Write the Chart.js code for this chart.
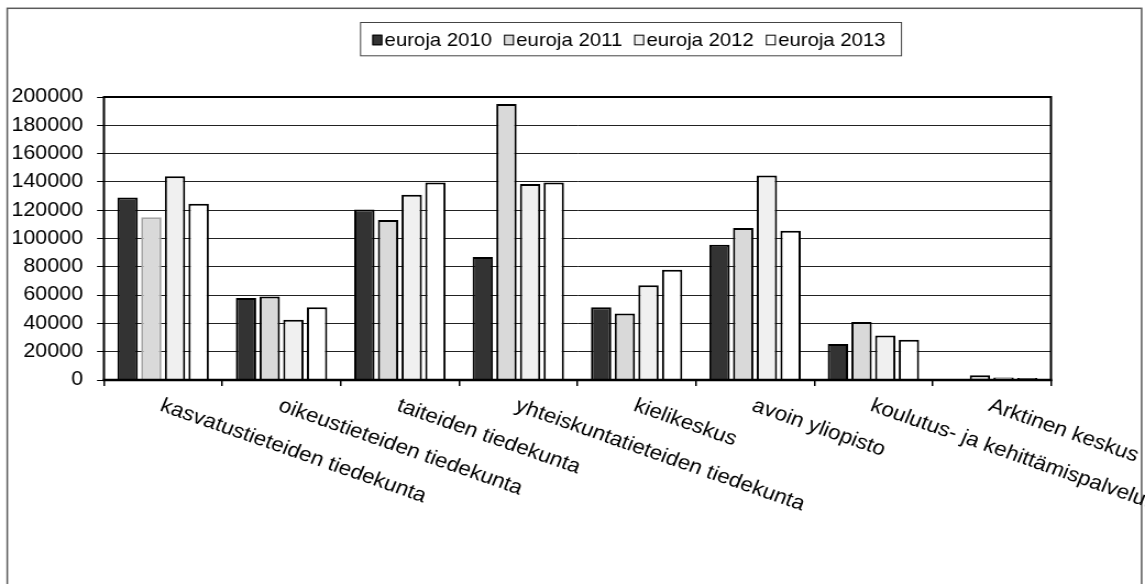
<!DOCTYPE html>
<html>
<head>
<meta charset="utf-8">
<title>Eurot yksiköittäin 2010–2013</title>
<script src="https://cdn.jsdelivr.net/npm/chart.js@4.4.1/dist/chart.umd.min.js"></script>
<style>
  html, body { margin: 0; padding: 0; background: #fff; }
  canvas { display: block; }
</style>
</head>
<body>
<!-- drawing surface is slightly narrower than the page and widened by CSS -->
<canvas id="chart" width="1041" height="584" style="width:1145px;height:584px"></canvas>
<script>
// Units (x axis)
const categories = [
  'kasvatustieteiden tiedekunta',
  'oikeustieteiden tiedekunta',
  'taiteiden tiedekunta',
  'yhteiskuntatieteiden tiedekunta',
  'kielikeskus',
  'avoin yliopisto',
  'koulutus- ja kehittämispalvelut',
  'Arktinen keskus'
];

// Series names
const seriesLabels = ['euroja 2010', 'euroja 2011', 'euroja 2012', 'euroja 2013'];

// Euros per unit and year
const euros2010 = [129000, 58000, 120500, 87000, 51500, 95500, 25500, 0];
const euros2011 = [115000, 59000, 113000, 195000, 47000, 107500, 41000, 3300];
const euros2012 = [144000, 42500, 131000, 138500, 67000, 144500, 31500, 1700];
const euros2013 = [124500, 51500, 139500, 139500, 78000, 105500, 28500, 1400];

// Value axis ticks
const yTickValues = [0, 20000, 40000, 60000, 80000, 100000, 120000, 140000, 160000, 180000, 200000];

const FONT = "'Liberation Sans', Arial, Helvetica, sans-serif";

// Outer frame and white background
const framePlugin = {
  id: 'frame',
  beforeDraw(chart) {
    const ctx = chart.ctx;
    ctx.save();
    ctx.fillStyle = '#ffffff';
    ctx.fillRect(0, 0, chart.width, chart.height);
    ctx.restore();
  },
  afterDraw(chart) {
    const ctx = chart.ctx;
    ctx.save();
    ctx.strokeStyle = '#5a5a5a';
    ctx.lineWidth = 1.5;
    ctx.strokeRect(6.6, 8.3, 1037.9 - 6.6, 640);
    ctx.restore();
  }
};

// Black border around the plot area, drawn over the bars
const plotBorderPlugin = {
  id: 'plotBorder',
  afterDatasetsDraw(chart) {
    const { ctx, chartArea: a } = chart;
    ctx.save();
    ctx.strokeStyle = '#000';
    ctx.lineWidth = 2;
    ctx.strokeRect(a.left, a.top, a.right - a.left, a.bottom - a.top);
    ctx.lineWidth = 2.6;
    ctx.beginPath();
    ctx.moveTo(a.left - 1, a.bottom);
    ctx.lineTo(a.right + 1, a.bottom);
    ctx.stroke();
    ctx.restore();
  }
};

// Boxed legend row above the plot
const boxedLegendPlugin = {
  id: 'boxedLegend',
  afterDraw(chart) {
    const ctx = chart.ctx;
    const left = 327.3, top = 22, height = 33.3;
    const sq = { w: 9.1, h: 10.6, y: 34.7 };
    ctx.save();
    ctx.font = '18.5px ' + FONT;
    ctx.textAlign = 'left';
    ctx.textBaseline = 'alphabetic';
    let x = left + 11.2;
    chart.data.datasets.forEach((ds, i) => {
      ctx.fillStyle = ds.backgroundColor;
      ctx.fillRect(x, sq.y, sq.w, sq.h);
      ctx.strokeStyle = '#000';
      ctx.lineWidth = 1;
      ctx.strokeRect(x + 0.5, sq.y + 0.5, sq.w - 1, sq.h - 1);
      ctx.fillStyle = '#000';
      const tx = x + sq.w + 2;
      ctx.fillText(ds.label, tx, 45.5);
      const w = ctx.measureText(ds.label).width;
      x = tx + w + (i < chart.data.datasets.length - 1 ? 10.9 : 0);
    });
    const right = x + 14;
    ctx.strokeStyle = '#444';
    ctx.lineWidth = 1;
    ctx.strokeRect(left + 0.5, top + 0.5, right - left, height);
    ctx.restore();
  }
};

// Category names, slanted downwards from each category centre
const slantedLabelsPlugin = {
  id: 'slantedLabels',
  afterDraw(chart) {
    const ctx = chart.ctx;
    const xs = chart.scales.x;
    const angle = 21 * Math.PI / 180;
    ctx.save();
    ctx.font = '20.4px ' + FONT;
    ctx.fillStyle = '#000';
    ctx.textAlign = 'left';
    ctx.textBaseline = 'top';
    categories.forEach((name, i) => {
      const x = xs.getPixelForValue(i);
      ctx.save();
      ctx.translate(x + 1.8, 395.5);
      ctx.rotate(angle);
      ctx.fillText(name, 0, 0);
      ctx.restore();
    });
    ctx.restore();
  }
};

const blackBorders = categories.map(() => '#000');
const borders2011 = categories.map((c, i) => (i === 0 ? '#a6a6a6' : '#000'));

new Chart(document.getElementById('chart'), {
  type: 'bar',
  data: {
    labels: categories,
    datasets: [
      { label: seriesLabels[0], data: euros2010, backgroundColor: '#333333', borderColor: blackBorders },
      { label: seriesLabels[1], data: euros2011, backgroundColor: '#d9d9d9', borderColor: borders2011 },
      { label: seriesLabels[2], data: euros2012, backgroundColor: '#f0f0f0', borderColor: blackBorders },
      { label: seriesLabels[3], data: euros2013, backgroundColor: '#ffffff', borderColor: blackBorders }
    ]
  },
  options: {
    responsive: false,
    devicePixelRatio: 1,
    animation: false,
    events: [],
    layout: { padding: { top: 97, bottom: 198, left: 0, right: 85.5 } },
    datasets: {
      bar: {
        borderWidth: 2,
        categoryPercentage: 0.8,
        barPercentage: 0.86
      }
    },
    plugins: {
      legend: { display: false },
      tooltip: { enabled: false },
      title: { display: false }
    },
    scales: {
      x: {
        offset: true,
        border: { display: false },
        grid: {
          display: true,
          offset: true,
          drawOnChartArea: false,
          drawTicks: true,
          tickLength: 6,
          color: '#000',
          lineWidth: 1.5
        },
        ticks: { display: false },
        afterFit(axis) { axis.height = 6; }
      },
      y: {
        min: 0,
        max: 200000,
        border: { display: false },
        grid: {
          color: '#222',
          lineWidth: 1,
          drawTicks: true,
          tickLength: 6.3,
          tickColor: '#000'
        },
        ticks: {
          padding: 12.7,
          color: '#000',
          font: { family: FONT, size: 19.5 },
          callback: (v) => String(v)
        },
        afterBuildTicks(axis) {
          axis.ticks = yTickValues.map((v) => ({ value: v }));
        },
        afterFit(axis) { axis.width = 94.5; }
      }
    }
  },
  plugins: [framePlugin, plotBorderPlugin, boxedLegendPlugin, slantedLabelsPlugin]
});
</script>
</body>
</html>
